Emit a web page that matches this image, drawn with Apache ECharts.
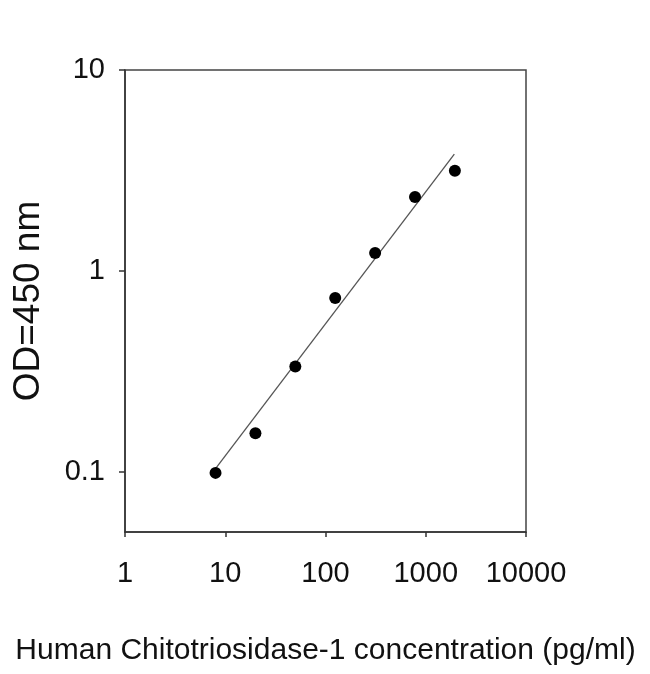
<!DOCTYPE html>
<html lang="en">
<head>
    <meta charset="UTF-8">
    <title>Chitotriosidase-1 standard curve</title>
    <script src="https://cdn.jsdelivr.net/npm/echarts@6/dist/echarts.min.js"></script>
    <style>
        html, body { margin: 0; padding: 0; background: #fff; }
        #main { width: 650px; height: 674px; }
    </style>
</head>
<body>
<div id="main"></div>
<script type="text/javascript">
    // standard points (concentration pg/ml, OD 450 nm)
    var conc = [8, 20, 50, 125, 312.5, 781.3, 1953];
    var od = [0.0985, 0.155, 0.334, 0.732, 1.227, 2.33, 3.15];
    // fitted line end points
    var fitX = [8, 1928];
    var fitY = [0.1035, 3.81];
    // axis ticks
    var xTicks = [1, 10, 100, 1000, 10000];
    var yTicks = [0.1, 1, 10];

    var points = [];
    for (var i = 0; i < conc.length; i++) {
        points.push([conc[i], od[i]]);
    }
    var fit = [];
    for (var j = 0; j < fitX.length; j++) {
        fit.push([fitX[j], fitY[j]]);
    }

    var font = 'Liberation Sans, Arial, sans-serif';
    var myChart = echarts.init(document.getElementById('main'));

    var option = {
        animation: false,
        grid: {
            left: 125,
            right: 124,
            top: 70,
            bottom: 142,
            show: true,
            borderColor: '#444',
            borderWidth: 1.5,
            containLabel: false
        },
        xAxis: {
            type: 'log',
            logBase: 10,
            min: 1,
            max: 10000,
            name: 'Human Chitotriosidase-1 concentration (pg/ml)',
            nameLocation: 'middle',
            nameGap: 104,
            nameTextStyle: { fontFamily: font, fontSize: 30, color: '#111' },
            axisLine: { show: true, lineStyle: { color: '#333', width: 1.5 } },
            axisTick: { show: true, length: 5, customValues: xTicks, lineStyle: { color: '#333', width: 1.5 } },
            minorTick: { show: false },
            splitLine: { show: false },
            axisLabel: {
                customValues: xTicks,
                margin: 27,
                fontFamily: font,
                fontSize: 29,
                color: '#111',
                formatter: function (v) { return String(Math.round(v)); }
            }
        },
        yAxis: {
            type: 'log',
            logBase: 10,
            min: 0.05,
            max: 10,
            name: 'OD=450 nm',
            nameLocation: 'middle',
            nameGap: 78,
            nameRotate: 90,
            nameTextStyle: { fontFamily: font, fontSize: 37, color: '#111' },
            axisLine: { show: true, lineStyle: { color: '#333', width: 1.5 } },
            axisTick: { show: true, length: 6, customValues: yTicks, lineStyle: { color: '#333', width: 1.5 } },
            minorTick: { show: false },
            splitLine: { show: false },
            axisLabel: {
                customValues: yTicks,
                margin: 20,
                fontFamily: font,
                fontSize: 29,
                color: '#111',
                formatter: function (v) { return v < 1 ? v.toFixed(1) : String(Math.round(v)); }
            }
        },
        series: [
            {
                name: 'fit',
                type: 'line',
                data: fit,
                symbol: 'none',
                lineStyle: { color: '#555', width: 1.3 },
                z: 2
            },
            {
                name: 'standard',
                type: 'scatter',
                data: points,
                symbol: 'circle',
                symbolSize: 12,
                itemStyle: { color: '#000', opacity: 1 },
                z: 3
            }
        ]
    };

    myChart.setOption(option);
</script>
</body>
</html>
